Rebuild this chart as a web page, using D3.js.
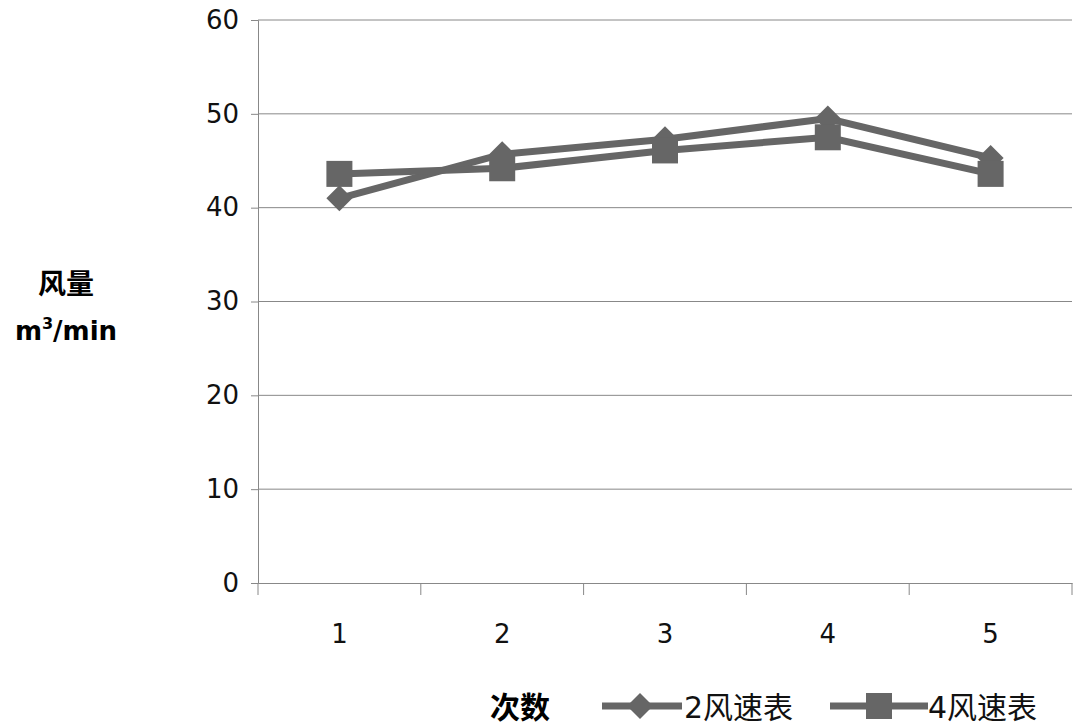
<!DOCTYPE html>
<html><head><meta charset="utf-8">
<script src="https://cdn.jsdelivr.net/npm/d3@7"></script>
<style>body{margin:0;background:#fff}text{font-family:"DejaVu Sans","Noto Sans CJK SC",sans-serif}</style>
</head><body><svg id="c" width="1077" height="728"></svg>
<script>
const categories = ["1","2","3","4","5"];
const seriesNames = ["2风速表","4风速表"];
const series2 = [41.0, 45.7, 47.3, 49.5, 45.3];
const series4 = [43.6, 44.2, 46.1, 47.5, 43.6];
const yTicks = [0,10,20,30,40,50,60];

const svg = d3.select("#c");
const L=258,R=1072,T=20,B=583;
const x = d3.scaleBand().domain(categories).range([L,R]);
const y = d3.scaleLinear().domain([0,60]).range([B,T]);
const col = "#666";

svg.append("g").selectAll("line").data(yTicks.slice(1)).join("line")
 .attr("x1",L).attr("x2",R).attr("y1",d=>y(d)).attr("y2",d=>y(d)).attr("stroke","#888").attr("stroke-width",1);
const ya = svg.append("g").attr("transform",`translate(${L},0)`).call(d3.axisLeft(y).tickValues(yTicks).tickSize(7).tickPadding(12));
ya.select(".domain").attr("stroke","#888");
ya.selectAll("line").attr("stroke","#888");
ya.selectAll("text").attr("font-size",26).attr("fill","#111");
const xa = svg.append("g").attr("transform",`translate(0,${B})`).call(d3.axisBottom(x).tickSize(0).tickPadding(42));
xa.select(".domain").attr("stroke","#888");
xa.selectAll("text").attr("font-size",26).attr("fill","#111");
svg.append("g").selectAll("line").data(d3.range(categories.length+1)).join("line")
 .attr("x1",i=>L+i*x.step()).attr("x2",i=>L+i*x.step()).attr("y1",B).attr("y2",B+12).attr("stroke","#888");

const cx = d=>x(d)+x.bandwidth()/2;
const line = d3.line().x((d,i)=>cx(categories[i])).y(d=>y(d));
svg.append("path").attr("d",line(series2)).attr("fill","none").attr("stroke",col).attr("stroke-width",7);
svg.append("path").attr("d",line(series4)).attr("fill","none").attr("stroke",col).attr("stroke-width",7);
const diamond = "M0,-13L13,0L0,13L-13,0Z";
svg.append("g").selectAll("path").data(series2).join("path")
 .attr("d",diamond).attr("transform",(d,i)=>`translate(${cx(categories[i])},${y(d)})`).attr("fill",col);
svg.append("g").selectAll("rect").data(series4).join("rect")
 .attr("x",(d,i)=>cx(categories[i])-13).attr("y",d=>y(d)-13).attr("width",26).attr("height",26).attr("fill",col);

svg.append("text").attr("x",66).attr("y",294).attr("text-anchor","middle").attr("font-size",28).attr("font-weight","bold").text("风量");
const t = svg.append("text").attr("x",66).attr("y",340).attr("text-anchor","middle").attr("font-size",26).attr("font-weight","bold");
t.append("tspan").text("m");
t.append("tspan").attr("font-size",16).attr("dy",-11).text("3");
t.append("tspan").attr("dy",11).text("/min");
svg.append("text").attr("x",520).attr("y",718).attr("text-anchor","middle").attr("font-size",30).attr("font-weight","bold").text("次数");
const lg = svg.append("g");
lg.append("line").attr("x1",602).attr("x2",682).attr("y1",706).attr("y2",706).attr("stroke",col).attr("stroke-width",7);
lg.append("path").attr("d",diamond).attr("transform","translate(640,706)").attr("fill",col);
lg.append("text").attr("x",684).attr("y",718).attr("font-size",30).attr("fill","#111").text(seriesNames[0]);
lg.append("line").attr("x1",830).attr("x2",928).attr("y1",706).attr("y2",706).attr("stroke",col).attr("stroke-width",7);
lg.append("rect").attr("x",866).attr("y",693).attr("width",26).attr("height",26).attr("fill",col);
lg.append("text").attr("x",928).attr("y",718).attr("font-size",30).attr("fill","#111").text(seriesNames[1]);
</script></body></html>
